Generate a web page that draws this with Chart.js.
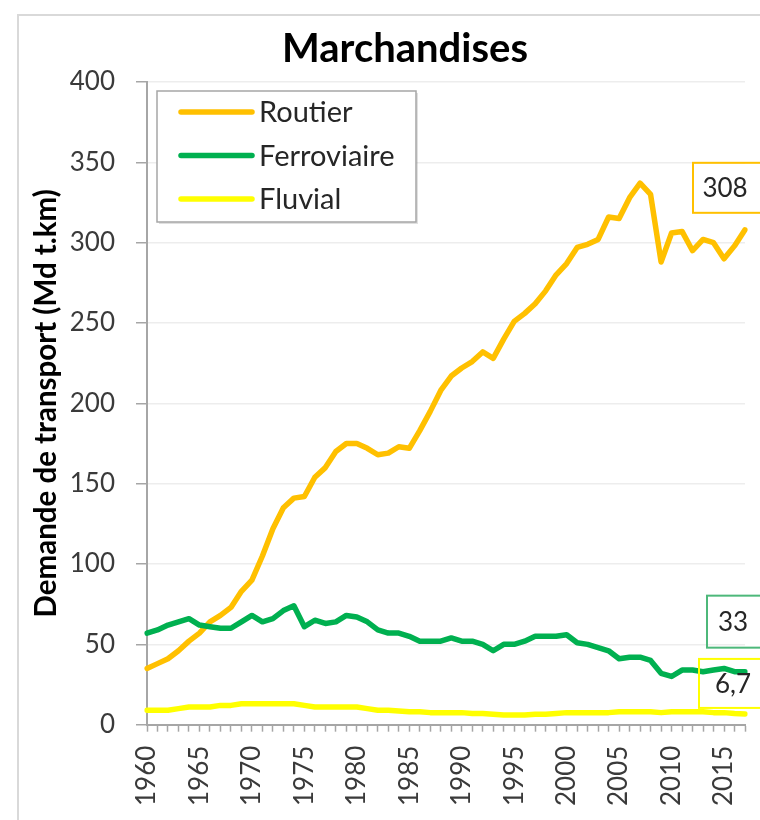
<!DOCTYPE html>
<html><head><meta charset="utf-8">
<script src="https://cdn.jsdelivr.net/npm/chart.js@4/dist/chart.umd.min.js"></script>
<style>html,body{margin:0;padding:0;background:#fff}#wrap{position:relative;width:760px;height:820px}</style>
</head><body><div id="wrap"><canvas id="c" width="760" height="820"></canvas></div>
<script>
const years = [1960,1961,1962,1963,1964,1965,1966,1967,1968,1969,1970,1971,1972,1973,1974,1975,1976,1977,1978,1979,1980,1981,1982,1983,1984,1985,1986,1987,1988,1989,1990,1991,1992,1993,1994,1995,1996,1997,1998,1999,2000,2001,2002,2003,2004,2005,2006,2007,2008,2009,2010,2011,2012,2013,2014,2015,2016,2017];
const routier = [35,38,41,46,52,57,64,68,73,83,90,105,122,135,141,142,154,160,170,175,175,172,168,169,173,172,183,195,208,217,222,226,232,228,240,251,256,262,270,280,287,297,299,302,316,315,328,337,330,288,306,307,295,302,300,290,298,308];
const ferroviaire = [57,59,62,64,66,62,61,60,60,64,68,64,66,71,74,61,65,63,64,68,67,64,59,57,57,55,52,52,52,54,52,52,50,46,50,50,52,55,55,55,56,51,50,48,46,41,42,42,40,32,30,34,34,33,34,35,33,33];
const fluvial = [9,9,9,10,11,11,11,12,12,13,13,13,13,13,13,12,11,11,11,11,11,10,9,9,8.5,8,8,7.5,7.5,7.5,7.5,7,7,6.5,6,6,6,6.5,6.5,7,7.5,7.5,7.5,7.5,7.5,8,8,8,8,7.5,8,8,8,8,7.5,7.5,7,6.7];
const seriesNames = ['Routier','Ferroviaire','Fluvial'];
const seriesColors = ['#FFC000','#00B050','#FFFF00'];
const endLabelBorders = ['#FFC000','#4DB87A','#FFFF00'];
const labeledYears = [1960,1965,1970,1975,1980,1985,1990,1995,2000,2005,2010,2015];
const titleText = 'Marchandises';
const yTitleText = 'Demande de transport (Md t.km)';

const FONT = 'Lato, "Open Sans", sans-serif';

const frame = {
  id:'frame',
  beforeDraw(chart){
    const c = chart.ctx;
    c.save();
    c.strokeStyle = '#d9d9d9'; c.lineWidth = 2;
    c.beginPath(); c.moveTo(18, 830); c.lineTo(18, 15); c.lineTo(770, 15); c.stroke();
    c.fillStyle = '#000';
    c.font = 'bold 40px ' + FONT; c.textAlign = 'center'; c.textBaseline = 'middle';
    c.fillText(titleText, 405, 49);
    c.restore();
  }
};

const legendBox = {
  id:'legendBox',
  afterDraw(chart){
    const c = chart.ctx, a = chart.chartArea;
    const x0 = a.left + 10, y0 = a.top + 9, w = 259, h = 131;
    c.save();
    c.fillStyle = 'rgba(0,0,0,0.12)';
    c.fillRect(x0 + 2, y0 + 2, w, h);
    c.fillStyle = '#fff';
    c.fillRect(x0, y0, w, h);
    c.strokeStyle = '#a6a6a6'; c.lineWidth = 1.5;
    c.strokeRect(x0, y0, w, h);
    c.font = '29px ' + FONT; c.textBaseline = 'middle'; c.textAlign = 'left';
    chart.data.datasets.forEach((ds, i) => {
      const y = y0 + 21 + i * 43.5;
      c.strokeStyle = ds.borderColor; c.lineWidth = 5.5; c.lineCap = 'round';
      c.beginPath(); c.moveTo(x0 + 24, y); c.lineTo(x0 + 95, y); c.stroke();
      c.fillStyle = '#262626';
      c.fillText(ds.label, x0 + 102, y + 1);
    });
    c.restore();
  }
};

const endLabels = {
  id:'endLabels',
  afterDraw(chart){
    const c = chart.ctx;
    const offs = [
      {l:-52, t:-67, b:-17, tx:32},
      {l:-38, t:-76, b:-24, tx:26},
      {l:-46, t:-55, b:-6, tx:34}
    ];
    c.save();
    chart.data.datasets.forEach((ds, i) => {
      const meta = chart.getDatasetMeta(i);
      const p = meta.data[meta.data.length - 1];
      const v = ds.data[ds.data.length - 1];
      const o = offs[i];
      const left = p.x + o.l, top = p.y + o.t, bottom = p.y + o.b;
      c.strokeStyle = endLabelBorders[i]; c.lineWidth = 2;
      c.strokeRect(left, top, 80, bottom - top);
      c.fillStyle = '#262626';
      c.font = '26px ' + FONT; c.textAlign = 'center'; c.textBaseline = 'middle';
      c.fillText(String(v).replace('.', ','), left + o.tx, (top + bottom) / 2 + 1);
    });
    c.restore();
  }
};

new Chart(document.getElementById('c'), {
  type:'line',
  data:{
    labels: years.map(String),
    datasets:[
      {label:seriesNames[0], data:routier, borderColor:seriesColors[0], backgroundColor:seriesColors[0], order:3},
      {label:seriesNames[1], data:ferroviaire, borderColor:seriesColors[1], backgroundColor:seriesColors[1], order:2},
      {label:seriesNames[2], data:fluvial, borderColor:seriesColors[2], backgroundColor:seriesColors[2], order:1}
    ]
  },
  options:{
    responsive:false, animation:false, devicePixelRatio:1,
    layout:{padding:{left:20, top:82, right:15, bottom:0}},
    plugins:{ legend:{display:false}, tooltip:{enabled:false}, title:{display:false} },
    elements:{point:{radius:0}, line:{borderWidth:5.5, tension:0, borderCapStyle:'round', borderJoinStyle:'round'}},
    scales:{
      x:{
        type:'category', offset:false,
        grid:{display:true, drawOnChartArea:false, drawTicks:true, tickLength:7, tickColor:'#a6a6a6', tickWidth:1.5},
        border:{display:true, color:'#a6a6a6', width:2},
        ticks:{autoSkip:false, minRotation:90, maxRotation:90, padding:14, color:'#3a3a3a', font:{family:FONT, size:26},
          callback:(v, i) => labeledYears.includes(years[i]) ? String(years[i]) : ''},
        afterFit:(s) => { s.paddingRight = 0; s.paddingLeft = 0; }
      },
      y:{
        min:0, max:400,
        ticks:{stepSize:50, padding:21, color:'#3a3a3a', font:{family:FONT, size:26}},
        grid:{color:'#ededed', lineWidth:1.5, tickLength:11, tickColor:'#a6a6a6', tickWidth:1.5},
        border:{color:'#a6a6a6', width:2},
        title:{display:true, text:yTitleText, color:'#000', font:{family:FONT, size:29.5, weight:'bold'}, padding:{top:9, bottom:0}},
        afterFit:(s) => { s.width = 127; }
      }
    }
  },
  plugins:[frame, legendBox, endLabels]
});
</script></body></html>
